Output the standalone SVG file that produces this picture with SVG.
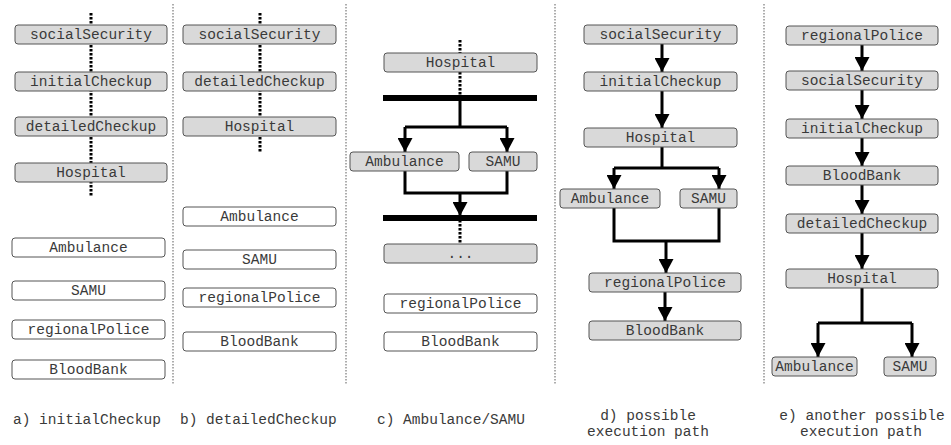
<svg xmlns="http://www.w3.org/2000/svg" width="951" height="445" viewBox="0 0 951 445">
<defs>
<style>
.g{fill:#d9d9d9;stroke:#555;stroke-width:1}
.w{fill:#fff;stroke:#555;stroke-width:1}
text{font-family:"Liberation Mono","Courier New",monospace;font-size:14.5px;fill:#3a3a3a;text-anchor:middle}
.dot{stroke:#000;stroke-width:3;stroke-dasharray:2.5 1.5;fill:none}
.div{stroke:#777;stroke-width:1.2;stroke-dasharray:1.5 1.5;fill:none}
.ln{stroke:#000;stroke-width:3;fill:none}
.ar{stroke:#000;stroke-width:3;fill:none;marker-end:url(#ah)}
</style>
<marker id="ah" markerUnits="userSpaceOnUse" markerWidth="14" markerHeight="15" viewBox="0 0 14 15" refX="14" refY="7.5" orient="auto">
<path d="M0,0 L14,7.5 L0,15 z" fill="#000"/>
</marker>
</defs>
<rect width="951" height="445" fill="#fff"/>
<g id="dividers">
<line class="div" x1="173" y1="4" x2="173" y2="385"/>
<line class="div" x1="346" y1="4" x2="346" y2="385"/>
<line class="div" x1="555" y1="4" x2="555" y2="385"/>
<line class="div" x1="764" y1="4" x2="764" y2="385"/>
</g>
<g id="connectors">
<line class="dot" x1="91" y1="13" x2="91" y2="197"/>
<line class="dot" x1="260" y1="13" x2="260" y2="152"/>
<line class="dot" x1="460" y1="40" x2="460" y2="96"/>
<line class="dot" x1="460" y1="220" x2="460" y2="244"/>
<path class="ln" d="M460,100 V127 M405,127 H507"/>
<path class="ar" d="M405,127 V152"/>
<path class="ar" d="M507,127 V152"/>
<path class="ln" d="M405,171 V193 H507 V171"/>
<path class="ar" d="M460,193 V216"/>
<path class="ar" d="M662,44 V72"/>
<path class="ar" d="M662,91 V128"/>
<path class="ln" d="M662,147 V168 M614,168 H719"/>
<path class="ar" d="M614,168 V189"/>
<path class="ar" d="M719,168 V189"/>
<path class="ln" d="M614,208 V241 H719 V208"/>
<path class="ar" d="M666,241 V273"/>
<path class="ar" d="M665,292 V321"/>
<path class="ar" d="M862,45 V71"/>
<path class="ar" d="M862,90 V119"/>
<path class="ar" d="M862,138 V166"/>
<path class="ar" d="M862,185 V214"/>
<path class="ar" d="M862,233 V269"/>
<path class="ln" d="M862,288 V323 M818,323 H912"/>
<path class="ar" d="M818,323 V357"/>
<path class="ar" d="M912,323 V357"/>
</g>
<g id="bars">
<rect x="383" y="95" width="154" height="6" fill="#000"/>
<rect x="383" y="215" width="154" height="6" fill="#000"/>
</g>
<g id="a-socialSecurity"><rect class="g" x="15" y="25" width="152" height="19" rx="3"/><text x="91" y="39">socialSecurity</text></g>
<g id="a-initialCheckup"><rect class="g" x="15" y="72" width="152" height="19" rx="3"/><text x="91" y="86">initialCheckup</text></g>
<g id="a-detailedCheckup"><rect class="g" x="15" y="117" width="152" height="19" rx="3"/><text x="91" y="131">detailedCheckup</text></g>
<g id="a-Hospital"><rect class="g" x="15" y="163" width="152" height="19" rx="3"/><text x="91" y="177">Hospital</text></g>
<g id="a-Ambulance"><rect class="w" x="12" y="238" width="153" height="19" rx="3"/><text x="88.5" y="252">Ambulance</text></g>
<g id="a-SAMU"><rect class="w" x="12" y="281" width="153" height="19" rx="3"/><text x="88.5" y="295">SAMU</text></g>
<g id="a-regionalPolice"><rect class="w" x="12" y="320" width="153" height="19" rx="3"/><text x="88.5" y="334">regionalPolice</text></g>
<g id="a-BloodBank"><rect class="w" x="12" y="360" width="153" height="19" rx="3"/><text x="88.5" y="374">BloodBank</text></g>
<g id="b-socialSecurity"><rect class="g" x="183" y="25" width="153" height="19" rx="3"/><text x="259.5" y="39">socialSecurity</text></g>
<g id="b-detailedCheckup"><rect class="g" x="183" y="72" width="153" height="19" rx="3"/><text x="259.5" y="86">detailedCheckup</text></g>
<g id="b-Hospital"><rect class="g" x="183" y="117" width="153" height="19" rx="3"/><text x="259.5" y="131">Hospital</text></g>
<g id="b-Ambulance"><rect class="w" x="183" y="207" width="153" height="19" rx="3"/><text x="259.5" y="221">Ambulance</text></g>
<g id="b-SAMU"><rect class="w" x="183" y="250" width="153" height="19" rx="3"/><text x="259.5" y="264">SAMU</text></g>
<g id="b-regionalPolice"><rect class="w" x="183" y="288" width="153" height="19" rx="3"/><text x="259.5" y="302">regionalPolice</text></g>
<g id="b-BloodBank"><rect class="w" x="183" y="332" width="153" height="19" rx="3"/><text x="259.5" y="346">BloodBank</text></g>
<g id="c-Hospital"><rect class="g" x="384" y="53" width="153" height="19" rx="3"/><text x="460.5" y="67">Hospital</text></g>
<g id="c-Ambulance"><rect class="g" x="350" y="152" width="109" height="19" rx="3"/><text x="404.5" y="166">Ambulance</text></g>
<g id="c-SAMU"><rect class="g" x="469" y="152" width="68" height="19" rx="3"/><text x="503" y="166">SAMU</text></g>
<g id="c-more"><rect class="g" x="384" y="244" width="153" height="19" rx="3"/><text x="460.5" y="258">...</text></g>
<g id="c-regionalPolice"><rect class="w" x="384" y="294" width="153" height="19" rx="3"/><text x="460.5" y="308">regionalPolice</text></g>
<g id="c-BloodBank"><rect class="w" x="384" y="332" width="153" height="19" rx="3"/><text x="460.5" y="346">BloodBank</text></g>
<g id="d-socialSecurity"><rect class="g" x="584" y="25" width="153" height="19" rx="3"/><text x="660.5" y="39">socialSecurity</text></g>
<g id="d-initialCheckup"><rect class="g" x="584" y="72" width="153" height="19" rx="3"/><text x="660.5" y="86">initialCheckup</text></g>
<g id="d-Hospital"><rect class="g" x="584" y="128" width="153" height="19" rx="3"/><text x="660.5" y="142">Hospital</text></g>
<g id="d-Ambulance"><rect class="g" x="560" y="189" width="100" height="19" rx="3"/><text x="610" y="203">Ambulance</text></g>
<g id="d-SAMU"><rect class="g" x="680" y="189" width="57" height="19" rx="3"/><text x="708.5" y="203">SAMU</text></g>
<g id="d-regionalPolice"><rect class="g" x="589" y="273" width="152" height="19" rx="3"/><text x="665" y="287">regionalPolice</text></g>
<g id="d-BloodBank"><rect class="g" x="589" y="321" width="152" height="19" rx="3"/><text x="665" y="335">BloodBank</text></g>
<g id="e-regionalPolice"><rect class="g" x="786" y="26" width="152" height="19" rx="3"/><text x="862" y="40">regionalPolice</text></g>
<g id="e-socialSecurity"><rect class="g" x="786" y="71" width="152" height="19" rx="3"/><text x="862" y="85">socialSecurity</text></g>
<g id="e-initialCheckup"><rect class="g" x="786" y="119" width="152" height="19" rx="3"/><text x="862" y="133">initialCheckup</text></g>
<g id="e-BloodBank"><rect class="g" x="786" y="166" width="152" height="19" rx="3"/><text x="862" y="180">BloodBank</text></g>
<g id="e-detailedCheckup"><rect class="g" x="786" y="214" width="152" height="19" rx="3"/><text x="862" y="228">detailedCheckup</text></g>
<g id="e-Hospital"><rect class="g" x="786" y="269" width="152" height="19" rx="3"/><text x="862" y="283">Hospital</text></g>
<g id="e-Ambulance"><rect class="g" x="772" y="357" width="85" height="19" rx="3"/><text x="814.5" y="371">Ambulance</text></g>
<g id="e-SAMU"><rect class="g" x="884" y="357" width="52" height="19" rx="3"/><text x="910" y="371">SAMU</text></g>
<g id="captions">
<text x="13" y="424" style="text-anchor:start">a) initialCheckup</text>
<text x="180" y="424" style="text-anchor:start">b) detailedCheckup</text>
<text x="377" y="424" style="text-anchor:start">c) Ambulance/SAMU</text>
<text x="648" y="420">d) possible</text>
<text x="648" y="436">execution path</text>
<text x="862" y="420">e) another possible</text>
<text x="861" y="436">execution path</text>
</g>
</svg>
